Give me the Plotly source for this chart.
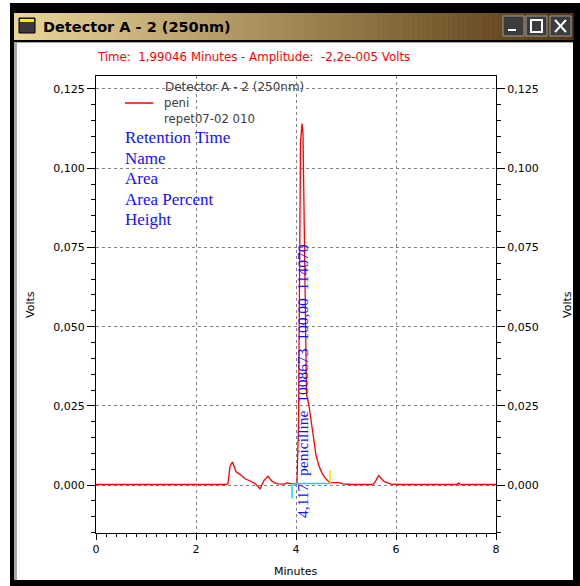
import plotly.graph_objects as go

# ---- chromatogram: Detector A - 2 (250nm), run "peni / repet07-02 010" ----
time_min = [0.00, 2.60, 2.64, 2.68, 2.73, 2.76, 2.80, 2.88, 2.98, 3.08, 3.18, 3.28,
            3.36, 3.44, 3.50, 3.56, 3.64, 3.76, 3.82, 3.90, 3.96, 4.00, 4.02, 4.05,
            4.09, 4.12, 4.14, 4.16, 4.18, 4.21, 4.26, 4.31, 4.35, 4.40, 4.46, 4.52,
            4.58, 4.64, 4.68, 4.74, 4.86, 4.94, 5.10, 5.54, 5.60, 5.65, 5.70, 5.76,
            5.82, 5.90, 6.00, 7.22, 7.25, 7.28, 8.00]
volts = [0.0002, 0.0002, 0.0005, 0.0060, 0.0073, 0.0062, 0.0042, 0.0034, 0.0020, 0.0013,
         0.0005, -0.0012, 0.0015, 0.0028, 0.0015, 0.0008, 0.0004, 0.0003, 0.0007, 0.0005,
         0.0005, 0.0004, 0.0010, 0.0190, 0.1080, 0.11407, 0.1110, 0.0870, 0.0588, 0.0286,
         0.0250, 0.0190, 0.0140, 0.0095, 0.0060, 0.0038, 0.0023, 0.0012, 0.0007, 0.0008,
         0.0008, 0.0004, 0.0002, 0.0002, 0.0015, 0.0030, 0.0022, 0.0012, 0.0008, 0.0003,
         0.0002, 0.0002, 0.0007, 0.0002, 0.0002]

# integrated peak
peak_rt = 4.117
peak_name = "penicilline"
peak_area = 1008673
peak_area_pct = 100.00
peak_height = 114070          # microvolts
peak_start, peak_end = 3.96, 4.68
baseline_level = 0.0005

legend_fields = ["Retention Time", "Name", "Area", "Area Percent", "Height"]
x_ticks = [0, 2, 4, 6, 8]
y_range = [-0.0151, 0.1291]

W, H = 580, 586
L, R, T, B = 96, 496, 76, 533   # plot-area edges in pixels


def px(x):
    return (x - L) / (R - L)


def py(y):
    return (B - y) / (B - T)


def rect(x0, y0, x1, y1, fill, line=None, width=0):
    return dict(type="rect", xref="paper", yref="paper", layer="below",
                x0=px(x0), x1=px(x1), y0=py(y1), y1=py(y0),
                fillcolor=fill, line=dict(color=line or fill, width=width))


def seg(x0, y0, x1, y1, color, width=1, ref="paper"):
    if ref == "paper":
        return dict(type="line", xref="paper", yref="paper", layer="below",
                    x0=px(x0), x1=px(x1), y0=py(y0), y1=py(y1),
                    line=dict(color=color, width=width))
    return dict(type="line", xref="x", yref="y", layer="above",
                x0=x0, x1=x1, y0=y0, y1=y1, line=dict(color=color, width=width))


shapes = []
# window frame
shapes.append(rect(10, 3, 580, 586, "#000000"))
# title bar gradient
c0, c1 = (234, 214, 152), (88, 56, 18)
x_left, x_right, n = 14, 573, 112
step = (x_right - x_left) / n
for i in range(n):
    f = i / (n - 1)
    col = "rgb(%d,%d,%d)" % tuple(round(a + (b - a) * f) for a, b in zip(c0, c1))
    shapes.append(rect(x_left + i * step, 13, x_left + (i + 1) * step + 0.6, 40, col))
# client area
shapes.append(rect(14, 42, 573, 580, "#a8a8a8"))
shapes.append(rect(17, 43, 573, 580, "#ffffff"))
# window icon
shapes.append(rect(19, 18, 35, 33, "#3a3a3a", "#000000", 1))
shapes.append(rect(20, 19, 34, 22, "#f0f000"))
# caption buttons
for bx0, bx1 in [(503, 524), (526, 547), (550, 571)]:
    shapes.append(rect(bx0, 16, bx1, 36, "#3c3c3c", "#9a9a9a", 1))
shapes.append(rect(508, 29, 516, 31, "#ffffff"))
shapes.append(rect(531, 20, 542, 32, "rgba(0,0,0,0)", "#ffffff", 2))
shapes.append(seg(555, 20, 566, 32, "#ffffff", 2))
shapes.append(seg(555, 32, 566, 20, "#ffffff", 2))
# legend swatch
shapes.append(seg(125, 103, 153, 103, "#ff0000", 1.5))
# peak start / end markers and drawn baseline
shapes.append(seg(peak_start, baseline_level, peak_end, baseline_level, "#00e0e0", 1.5, ref="data"))
shapes.append(seg(peak_start - 0.04, -0.0042, peak_start - 0.04, 0.0003, "#00e0e0", 1.5, ref="data"))
shapes.append(seg(peak_end, baseline_level, peak_end, 0.0047, "#f0e000", 1.5, ref="data"))

fig = go.Figure()
fig.add_trace(go.Scatter(x=time_min, y=volts, mode="lines",
                         line=dict(color="#ff0000", width=1.3),
                         hoverinfo="skip", showlegend=False))
fig.add_trace(go.Scatter(x=[0], y=[0], yaxis="y2", mode="markers",
                         marker=dict(opacity=0), hoverinfo="skip", showlegend=False))

sans = "DejaVu Sans, Verdana, sans-serif"
serif = "Liberation Serif, Times New Roman, serif"
annotations = [
    dict(text="<b>Detector A - 2 (250nm)</b>", x=px(41), y=py(27), xanchor="left",
         yanchor="middle", font=dict(family=sans, size=14.5, color="#000000")),
    dict(text="Time:\u00a0 1,99046 Minutes - Amplitude:\u00a0 -2,2e-005 Volts",
         x=px(95), y=py(57), xanchor="left", yanchor="middle",
         font=dict(family=sans, size=11.8, color="#ff0000")),
    dict(text="Detector A - 2 (250nm)", x=px(163), y=py(87), xanchor="left",
         yanchor="middle", font=dict(family=sans, size=12, color="#404040")),
    dict(text="peni", x=px(162), y=py(103), xanchor="left", yanchor="middle",
         font=dict(family=sans, size=11.7, color="#404040")),
    dict(text="repet07-02 010", x=px(162), y=py(119), xanchor="left", yanchor="middle",
         font=dict(family=sans, size=11.7, color="#404040")),
    dict(text="Volts", x=px(30), y=py(305), xanchor="center", yanchor="middle",
         textangle=-90, font=dict(family=sans, size=11, color="#000000")),
    dict(text="Volts", x=px(567), y=py(305), xanchor="center", yanchor="middle",
         textangle=-90, font=dict(family=sans, size=11, color="#000000")),
    dict(text="Minutes", x=px(296), y=py(571), xanchor="center", yanchor="middle",
         font=dict(family=sans, size=11, color="#000000")),
]
for i, name in enumerate(legend_fields):
    annotations.append(dict(text=name, x=px(123), y=py(138 + 20.4 * i), xanchor="left",
                            yanchor="middle",
                            font=dict(family=serif, size=17, color="#1010ff")))

label = "\u00a0\u00a0".join([
    f"{peak_rt:.3f}".replace(".", ","),
    peak_name,
    str(peak_area),
    f"{peak_area_pct:.2f}".replace(".", ","),
    str(peak_height),
])
annotations.append(dict(text=label, xref="x", yref="y", x=peak_rt, y=0,
                        xanchor="center", yanchor="bottom", yshift=-34,
                        textangle=-90,
                        font=dict(family=serif, size=15.5, color="#1010ff"),
                        borderpad=0))
for a in annotations:
    a.setdefault("xref", "paper")
    a.setdefault("yref", "paper")
    a["showarrow"] = False

axis_common = dict(showline=True, linecolor="#000000", linewidth=1,
                   ticks="outside", tickcolor="#000000",
                   tickfont=dict(family=sans, size=11, color="#000000"),
                   showgrid=True, gridcolor="#808080", gridwidth=1, griddash="3px,3px",
                   zeroline=False)

fig.update_layout(
    width=W, height=H, autosize=False,
    margin=dict(l=L, r=W - R, t=T, b=H - B),
    paper_bgcolor="#ffffff", plot_bgcolor="rgba(0,0,0,0)",
    separators=", ",
    shapes=shapes, annotations=annotations,
    xaxis=dict(range=[0, 8], tickvals=x_ticks, ticklen=6, mirror=True,
               minor=dict(dtick=0.2, ticklen=3, ticks="outside", tickcolor="#000000",
                          showgrid=False),
               **axis_common),
    yaxis=dict(range=y_range, dtick=0.025, tick0=0, tickformat=".3f", ticklen=8,
               minor=dict(dtick=0.005, tick0=0, ticklen=4, ticks="outside",
                          tickcolor="#000000", showgrid=False),
               **axis_common),
    yaxis2=dict(range=y_range, dtick=0.025, tick0=0, tickformat=".3f", ticklen=8,
                overlaying="y", side="right",
                minor=dict(dtick=0.005, tick0=0, ticklen=4, ticks="outside",
                           tickcolor="#000000", showgrid=False),
                **{k: v for k, v in axis_common.items() if k != "showgrid"},
                showgrid=False),
    showlegend=False,
)

fig.write_html("out.html")
